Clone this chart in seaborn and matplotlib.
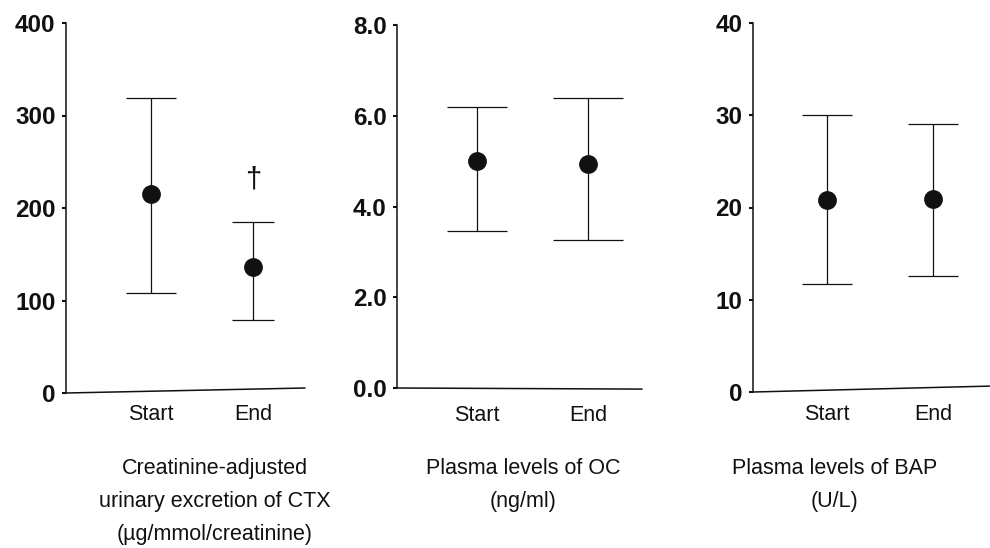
import matplotlib
matplotlib.use("Agg")
import matplotlib.pyplot as plt
import seaborn as sns
import pandas as pd
import numpy as np

# ---- data ----
timepoints = ["Start", "End"]

ctx_mean = [215, 136]
ctx_low = [108, 79]
ctx_high = [319, 185]

oc_mean = [5.0, 4.93]
oc_low = [3.46, 3.27]
oc_high = [6.2, 6.39]

bap_mean = [20.8, 20.9]
bap_low = [11.7, 12.6]
bap_high = [30.0, 29.0]

titles = [
    "Creatinine-adjusted\nurinary excretion of CTX\n(\u00b5g/mmol/creatinine)",
    "Plasma levels of OC\n(ng/ml)",
    "Plasma levels of BAP\n(U/L)",
]
yticks = [[0, 100, 200, 300, 400], [0, 2, 4, 6, 8], [0, 10, 20, 30, 40]]
yticklabels = [["0", "100", "200", "300", "400"],
               ["0.0", "2.0", "4.0", "6.0", "8.0"],
               ["0", "10", "20", "30", "40"]]
ylims = [(0, 400), (0, 8), (0, 40)]

sns.set_style("ticks")
plt.rcParams['font.family'] = ['Liberation Sans', 'DejaVu Sans']

W, H = 990, 548
fig = plt.figure(figsize=(W / 100, H / 100), dpi=100)

# layout in pixels: (spine x, start x, end x, right x, top y, bottom y)
layout = [
    (66, 151, 253, 305, 23, 393),
    (397, 477, 588, 642, 25, 388),
    (753, 827, 933, 990, 23, 392),
]
slopes = [0.0135, -0.003, 0.016]
capsizes = [[18.3, 14.8], [21.5, 25], [18, 18]]
xpads = [7.6, 12, 8.3]
title_x = [215, 523, 835]

datasets = [
    (ctx_mean, ctx_low, ctx_high),
    (oc_mean, oc_low, oc_high),
    (bap_mean, bap_low, bap_high),
]

col = "#111111"
for i, (mean, low, high) in enumerate(datasets):
    sx, x0, x1, rx, ty, by = layout[i]
    ax = fig.add_axes([sx / W, (H - by) / H, (rx - sx) / W, (by - ty) / H])
    df = pd.DataFrame({"time": timepoints, "value": mean})
    for j in range(len(timepoints)):
        ax.errorbar([j], [mean[j]],
                    yerr=[[mean[j] - low[j]], [high[j] - mean[j]]],
                    fmt="none", ecolor=col, elinewidth=0.9,
                    capsize=capsizes[i][j], capthick=0.9, zorder=2)
    sns.pointplot(data=df, x="time", y="value", order=timepoints,
                  errorbar=None, linestyle="none", markers="o",
                  color=col, markersize=11.5, ax=ax, zorder=3)
    step = x1 - x0
    ax.set_xlim(-(x0 - sx) / step, (rx - x0) / step)
    ax.set_ylim(*ylims[i])
    ax.set_yticks(yticks[i])
    ax.set_yticklabels(yticklabels[i], fontsize=17.5, fontweight="bold")
    ax.set_xlabel("")
    ax.set_ylabel("")
    ax.tick_params(axis="y", length=3, width=1.5, pad=4.5, colors="#111111")
    ax.tick_params(axis="x", length=0, pad=xpads[i], labelsize=15.5,
                   labelcolor="#111111")
    for s in ["top", "right", "bottom"]:
        ax.spines[s].set_visible(False)
    ax.spines["left"].set_linewidth(1.1)
    ax.spines["left"].set_color("#111111")
    ax.plot([0, 1], [0, slopes[i]], transform=ax.transAxes, color="#111111",
            lw=1.1, clip_on=False)
    ax.patch.set_alpha(0)
    fig.text(title_x[i] / W, (H - 458) / H, titles[i], ha="center", va="top",
             fontsize=15.5, linespacing=1.76, color="#111111")

    if i == 0:
        ax.text(1, 231, "\u2020", ha="center", va="center", fontsize=21,
                color="#111111")

fig.savefig("out.png", dpi=100)
